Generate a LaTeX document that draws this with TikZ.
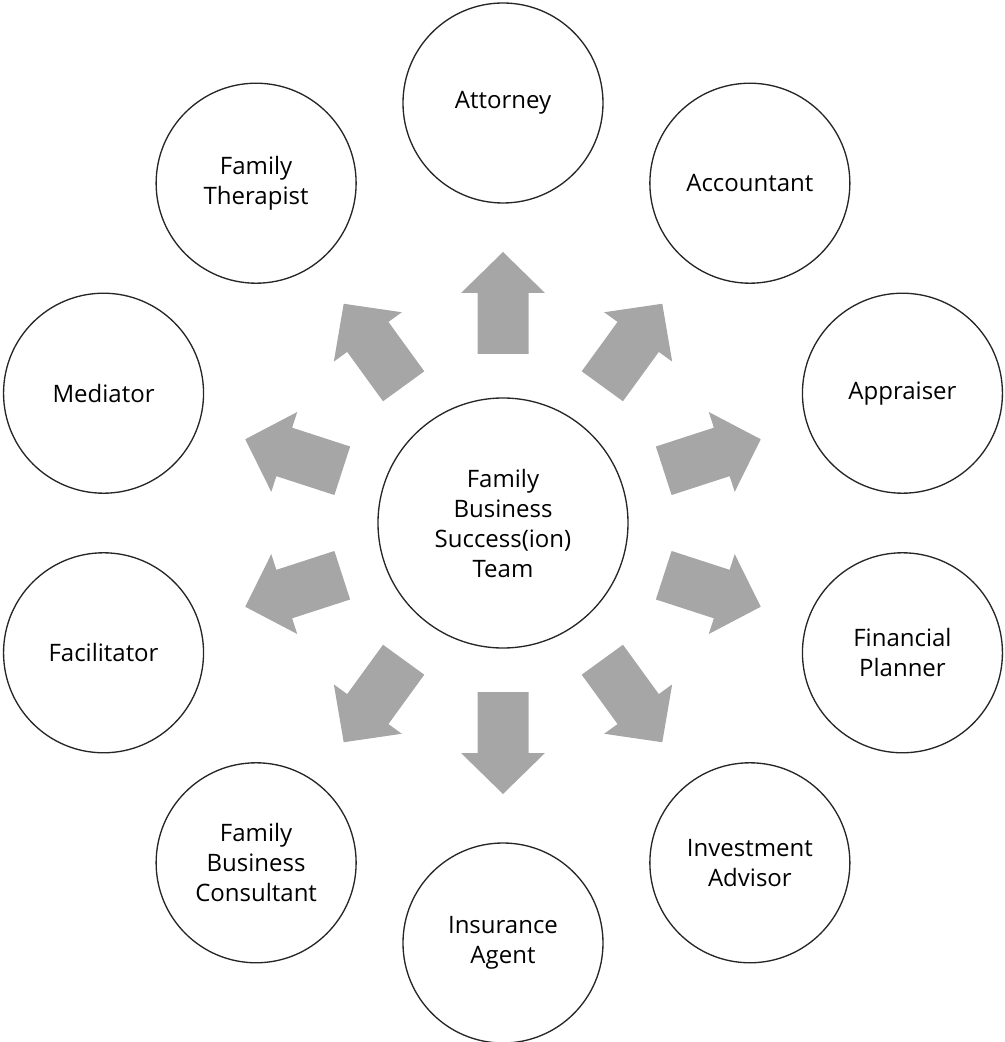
\documentclass[tikz,border=0pt]{standalone}
\usepackage{fontspec}
\setmainfont{Open Sans}
\definecolor{arrowgray}{HTML}{A6A6A6}
\definecolor{ringline}{HTML}{262626}
\begin{document}
\begin{tikzpicture}[x=0.75pt,y=0.75pt,
  member/.style={circle,draw=ringline,line width=1pt,minimum size=200*0.75pt,inner sep=0pt,align=center,font=\fontsize{18}{22.5}\selectfont},
  hub/.style={circle,draw=ringline,line width=1pt,minimum size=250*0.75pt,inner sep=0pt,align=center,font=\fontsize{18}{22.5}\selectfont},
  blockarrow/.style={fill=arrowgray,draw=none}]
\useasboundingbox (-503,-519) rectangle (502,523);
\node[hub] (center) at (0,0) {Family\\Business\\Success(ion)\\Team};
\node[member] (att) at (90:420) {Attorney};
\node[member] (acc) at (54:420) {Accountant};
\node[member] (app) at (18:420) {Appraiser};
\node[member] (fin) at (-18:420) {Financial\\Planner};
\node[member] (inv) at (-54:420) {Investment\\Advisor};
\node[member] (ins) at (-90:420) {Insurance\\Agent};
\node[member] (fbc) at (-126:420) {Family\\Business\\Consultant};
\node[member] (fac) at (-162:420) {Facilitator};
\node[member] (med) at (162:420) {Mediator};
\node[member] (fth) at (126:420) {Family\\Therapist};
\foreach \a in {90,54,18,-18,-54,-90,-126,-162,162,126}{
  \begin{scope}[rotate=\a]
    \fill[blockarrow] (169,-25.5) -- (230,-25.5) -- (230,-42) -- (271,0) -- (230,42) -- (230,25.5) -- (169,25.5) -- cycle;
  \end{scope}
}
\end{tikzpicture}
\end{document}
